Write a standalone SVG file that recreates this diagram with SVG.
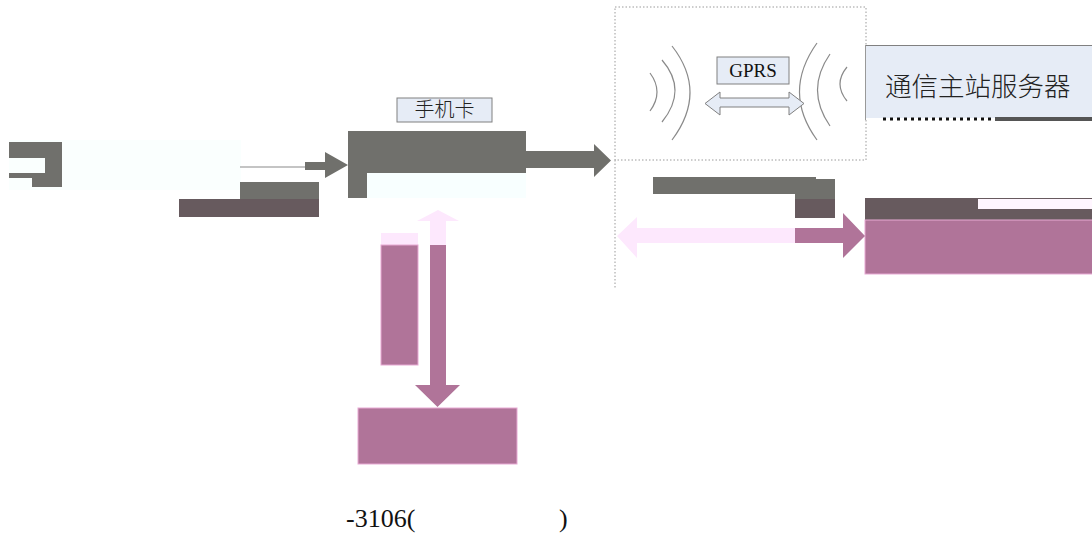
<svg xmlns="http://www.w3.org/2000/svg" width="1092" height="538" viewBox="0 0 1092 538">
<style>
.g{fill:#70706c}
.b{fill:#675a5e}
.p{fill:#b07499;stroke:#e7a9d3;stroke-width:1}
.lp{fill:#fde8fd}
.lbl{fill:#e6ecf6;stroke:#808080;stroke-width:1}
.wave{fill:none;stroke:#8a8a8a;stroke-width:1.2}
.dot{fill:none;stroke:#9a9a9a;stroke-width:1;stroke-dasharray:1.5 2}
.serif{font-family:"Liberation Serif","Times New Roman",serif;fill:#111}
.cjk{font-family:"Noto Sans CJK SC","Noto Sans",sans-serif;fill:#222;font-weight:300}
</style>
<rect width="1092" height="538" fill="#fff"/>

<g id="left-source">
<rect x="9" y="140" width="232" height="50" fill="#fafffe"/>
<path class="g" d="M9 142H62V187H32V178H9V173H45V158H9Z"/>
<rect class="g" x="240" y="182" width="79" height="17"/>
<rect class="b" x="179" y="199" width="140" height="18"/>
</g>

<g id="sim-card">
<path class="g" d="M348 131H526V173H367V198H348Z"/>
<rect x="367" y="173" width="159" height="25" fill="#f8ffff"/>
<rect class="lbl" x="397" y="98" width="95" height="24"/>
<text class="cjk" x="444.5" y="117" font-size="20" text-anchor="middle">手机卡</text>
</g>

<g id="gprs-cloud">
<rect class="dot" x="615" y="7" width="251" height="153"/>
<line class="dot" x1="615" y1="160" x2="615" y2="288"/>
<path class="wave" d="M650 73Q664 92 650 111"/>
<path class="wave" d="M662 60Q688 90 662 122"/>
<path class="wave" d="M672 46Q708 92 672 140"/>
<path class="wave" d="M847 67Q833 84 847 101"/>
<path class="wave" d="M830 54Q805 90 830 126"/>
<path class="wave" d="M817 43Q782 92 817 140"/>
<rect class="lbl" x="717" y="57" width="72" height="27"/>
<text class="serif" x="753" y="77" font-size="19" text-anchor="middle">GPRS</text>
</g>

<g id="server">
<rect x="865" y="45" width="230" height="73" fill="#e6ecf6"/>
<line x1="865" y1="45.5" x2="1092" y2="45.5" stroke="#808080" stroke-width="1"/>
<line x1="865.5" y1="45" x2="865.5" y2="120" stroke="#999" stroke-width="1"/>
<text class="cjk" x="885" y="96" font-size="26.5">通信主站服务器</text>
<line x1="883" y1="119" x2="995" y2="119" stroke="#111" stroke-width="3" stroke-dasharray="3 4"/>
<rect x="995" y="117" width="97" height="4" fill="#555"/>
</g>

<g id="right-block">
<rect class="g" x="653" y="177" width="163" height="17"/>
<rect class="g" x="795" y="179" width="40" height="20"/>
<rect class="b" x="795" y="199" width="40" height="19"/>
<rect class="b" x="865" y="198" width="227" height="22"/>
<rect x="978" y="199" width="114" height="10" fill="#fff6ff"/>
<rect class="p" x="865" y="220" width="230" height="54"/>
</g>

<g id="bottom-block">
<rect class="lp" x="381" y="233" width="37" height="12"/>
<rect class="p" x="381" y="245" width="37" height="120"/>
<rect class="p" x="358" y="408" width="159" height="56"/>
</g>

<g id="connectors">
<line x1="240" y1="167" x2="305" y2="167" stroke="#8a8a8a" stroke-width="1.2"/>
<path class="g" d="M305 162H325V152L348 165L325 178V170H305Z"/>
<path class="g" d="M526 151H594V144L611 160.5L594 177V168H526Z"/>
<path class="lbl" d="M705 103.5L720 92V98H789V92L804 103.5L789 115V107H720V115Z"/>
<path class="lp" d="M795 228H637V217L617 236L637 258V243H795Z"/>
<path fill="#b07499" d="M795 228H843V213L865 236L843 258V243H795Z"/>
<path class="lp" d="M430 245V221H417L438 210L459 221H446V245Z"/>
<path fill="#b07499" d="M430 245H446V385H460L437.5 407L415 385H430Z"/>
</g>

<g id="caption">
<text class="serif" x="346" y="527" font-size="26">-3106(</text>
<text class="serif" x="559" y="527" font-size="26">)</text>
</g>
</svg>
